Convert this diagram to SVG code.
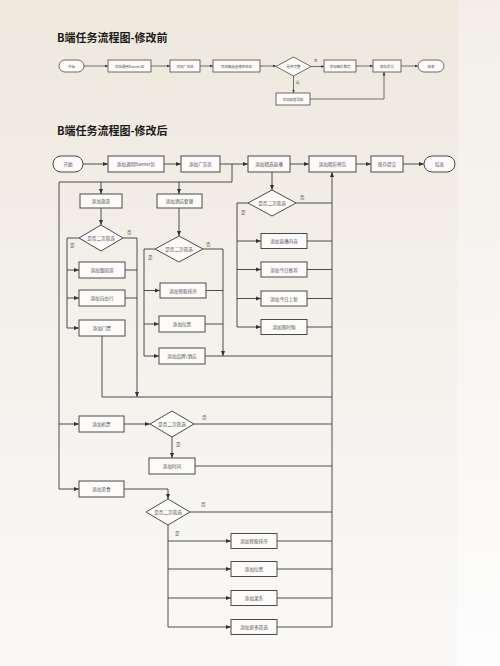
<svg xmlns="http://www.w3.org/2000/svg" width="500" height="666" viewBox="0 0 500 666">
<defs>
<linearGradient id="bg" x1="0" y1="0" x2="0" y2="1">
<stop offset="0" stop-color="#eee8dd"/>
<stop offset="0.5" stop-color="#f4f1ec"/>
<stop offset="1" stop-color="#faf9f8"/>
</linearGradient>
<linearGradient id="bg2" x1="0" y1="0" x2="0" y2="1">
<stop offset="0" stop-color="#f3efe8"/>
<stop offset="0.5" stop-color="#f8f6f3"/>
<stop offset="1" stop-color="#fdfdfd"/>
</linearGradient>
<marker id="a" viewBox="0 0 10 10" refX="10" refY="5" markerWidth="5" markerHeight="5" orient="auto" markerUnits="userSpaceOnUse"><path d="M0,1 L10,5 L0,9 z" fill="#333"/></marker>
<marker id="s" viewBox="0 0 10 10" refX="10" refY="5" markerWidth="3.5" markerHeight="3.5" orient="auto" markerUnits="userSpaceOnUse"><path d="M0,1 L10,5 L0,9 z" fill="#333"/></marker>
</defs>
<style>
.title{font-family:"Noto Sans CJK SC","Noto Sans",sans-serif;font-weight:bold;font-size:11px;fill:#1a1a1a}
.b{fill:#fcfbf9;stroke:#4a4a4a;stroke-width:1}
.bs{fill:#fcfbf9;stroke:#4a4a4a;stroke-width:0.8}
.t{font-family:"Noto Sans CJK SC","Noto Sans",sans-serif;font-size:4.6px;fill:#555;text-anchor:middle;dominant-baseline:central}
.ts{font-family:"Noto Sans CJK SC","Noto Sans",sans-serif;font-size:3.5px;fill:#555;text-anchor:middle;dominant-baseline:central}
.l{font-family:"Noto Sans CJK SC","Noto Sans",sans-serif;font-size:4.6px;fill:#555}
.ls{font-family:"Noto Sans CJK SC","Noto Sans",sans-serif;font-size:3.5px;fill:#555}
.c path{fill:none;stroke:#3a3a3a;stroke-width:0.9}
.cs path{fill:none;stroke:#3a3a3a;stroke-width:0.7}
.ar{marker-end:url(#a)}
.as{marker-end:url(#s)}
</style>
<rect x="0" y="0" width="458" height="666" fill="url(#bg)"/>
<rect x="458" y="0" width="42" height="666" fill="url(#bg2)"/>

<text class="title" x="57" y="42">B端任务流程图-修改前</text>
<text class="title" x="57" y="135">B端任务流程图-修改后</text>

<!-- before chart connectors -->
<g id="connectors-before" class="cs">
<path class="as" d="M84,66 H108"/>
<path class="as" d="M151,66 H170"/>
<path class="as" d="M200,66 H213"/>
<path class="as" d="M260,66 H276"/>
<path class="as" d="M311,66.5 H324"/>
<path class="as" d="M356,66 H373"/>
<path class="as" d="M401,66 H418"/>
<path class="as" d="M293.5,76 V93"/>
<path class="as" d="M310,99 H384 V72"/>
</g>
<text class="ls" x="314" y="62">否</text>
<text class="ls" x="296" y="84">是</text>

<g id="p-start"><rect class="bs" x="59" y="60" width="25" height="12" rx="6"/><text class="ts" x="71.5" y="66">开始</text></g>
<g id="p-banner"><rect class="bs" x="108" y="60" width="43" height="12"/><text class="ts" x="129.5" y="66">添加通用Banner区</text></g>
<g id="p-ad"><rect class="bs" x="170" y="60" width="30" height="12"/><text class="ts" x="185" y="66">添加广告区</text></g>
<g id="p-live"><rect class="bs" x="213" y="60" width="47" height="12"/><text class="ts" x="236.5" y="66">添加精选直播预告区</text></g>
<g id="p-dec"><polygon class="bs" points="276,66.5 293.5,57 311,66.5 293.5,76"/><text class="ts" x="293.5" y="66.5">是否完整</text></g>
<g id="p-rec"><rect class="bs" x="324" y="60" width="32" height="12"/><text class="ts" x="340" y="66">添加精彩推荐</text></g>
<g id="p-save"><rect class="bs" x="373" y="60" width="28" height="12"/><text class="ts" x="387" y="66">保存提交</text></g>
<g id="p-end"><rect class="bs" x="418" y="60" width="26" height="12" rx="6"/><text class="ts" x="431" y="66">结束</text></g>
<g id="p-nav"><rect class="bs" x="276" y="93" width="34" height="12"/><text class="ts" x="293" y="99">添加频道导航</text></g>

<!-- after chart connectors -->
<g id="connectors-after" class="c">
<path class="ar" d="M83,164 H108"/>
<path class="ar" d="M164,164 H181"/>
<path class="ar" d="M220,164 H248"/>
<path class="ar" d="M290,164 H309"/>
<path class="ar" d="M356,164 H371"/>
<path class="ar" d="M403,164 H424"/>
<path d="M232,164 V182 H59 V489"/>
<path class="ar" d="M101,182 V194"/>
<path class="ar" d="M179,182 V194"/>
<path class="ar" d="M59,424 H79"/>
<path class="ar" d="M59,489 H79"/>
<!-- left group -->
<path class="ar" d="M101,208 V225"/>
<path class="ar" d="M123,238 H137 V397"/>
<path d="M79,238 H67 V328"/>
<path class="ar" d="M67,270 H79"/>
<path class="ar" d="M67,298 H79"/>
<path class="ar" d="M67,328 H79"/>
<path d="M125,270 H137"/>
<path d="M125,298 H137"/>
<path d="M102,336 V397 H332"/>
<!-- middle group -->
<path class="ar" d="M179,208 V236"/>
<path class="ar" d="M203,249 H223 V356"/>
<path d="M155,249 H144 V356"/>
<path class="ar" d="M144,290.5 H160"/>
<path class="ar" d="M144,324 H159"/>
<path class="ar" d="M144,356 H159"/>
<path d="M206,290.5 H223"/>
<path d="M205,324 H223"/>
<path d="M205,356 H332"/>
<!-- right group -->
<path class="ar" d="M272,172 V190"/>
<path d="M296,203 H332"/>
<path d="M248,203 H237 V327"/>
<path class="ar" d="M237,241 H261"/>
<path class="ar" d="M237,269.5 H261"/>
<path class="ar" d="M237,298.5 H261"/>
<path class="ar" d="M237,327 H261"/>
<path d="M307,241 H332"/>
<path d="M307,269.5 H332"/>
<path d="M307,298.5 H332"/>
<path d="M307,327 H332"/>
<path class="ar" d="M332,627 V172"/>
<!-- flights -->
<path class="ar" d="M124,424 H150"/>
<path d="M194,424 H332"/>
<path class="ar" d="M172,437 V458"/>
<path d="M195,466 H332"/>
<!-- food -->
<path class="ar" d="M124,489 H168 V499"/>
<path d="M190,512 H332"/>
<path d="M168,525 V627"/>
<path class="ar" d="M168,541 H231"/>
<path class="ar" d="M168,569 H231"/>
<path class="ar" d="M168,598 H231"/>
<path class="ar" d="M168,627 H231"/>
<path d="M277,541 H332"/>
<path d="M277,569 H332"/>
<path d="M277,598 H332"/>
<path d="M277,627 H332"/>
</g>
<text class="l" x="127" y="234">否</text>
<text class="l" x="70" y="247">是</text>
<text class="l" x="206" y="246">否</text>
<text class="l" x="148" y="259">是</text>
<text class="l" x="300" y="199">否</text>
<text class="l" x="241" y="214">是</text>
<text class="l" x="202" y="419">否</text>
<text class="l" x="176" y="446">是</text>
<text class="l" x="201" y="506">否</text>
<text class="l" x="175" y="535">是</text>

<g id="n-start"><rect class="b" x="53" y="156" width="30" height="16" rx="8"/><text class="t" x="68" y="164">开始</text></g>
<g id="n-banner"><rect class="b" x="108" y="156" width="56" height="16"/><text class="t" x="136" y="164">添加通用Banner区</text></g>
<g id="n-ad"><rect class="b" x="181" y="156" width="39" height="16"/><text class="t" x="200.5" y="164">添加广告区</text></g>
<g id="n-live"><rect class="b" x="248" y="156" width="42" height="16"/><text class="t" x="269" y="164">添加精选直播</text></g>
<g id="n-preview"><rect class="b" x="309" y="156" width="47" height="16"/><text class="t" x="332.5" y="164">添加精彩预告</text></g>
<g id="n-save"><rect class="b" x="371" y="156" width="32" height="16"/><text class="t" x="387" y="164">保存提交</text></g>
<g id="n-end"><rect class="b" x="424" y="156" width="31" height="16" rx="8"/><text class="t" x="439.5" y="164">结束</text></g>

<g id="n-travel"><rect class="b" x="80" y="194" width="42" height="14"/><text class="t" x="101" y="201">添加旅游</text></g>
<g id="n-d1"><polygon class="b" points="79,238 101,225 123,238 101,251"/><text class="t" x="101" y="238">是否二次筛选</text></g>
<g id="n-group"><rect class="b" x="79" y="262" width="46" height="16"/><text class="t" x="102" y="270">添加跟团游</text></g>
<g id="n-free"><rect class="b" x="79" y="290" width="46" height="16"/><text class="t" x="102" y="298">添加自由行</text></g>
<g id="n-ticket"><rect class="b" x="79" y="320" width="46" height="16"/><text class="t" x="102" y="328">添加门票</text></g>

<g id="n-hotel"><rect class="b" x="157" y="194" width="45" height="14"/><text class="t" x="179.5" y="201">添加酒店套餐</text></g>
<g id="n-d2"><polygon class="b" points="155,249 179,236 203,249 179,262"/><text class="t" x="179" y="249">是否二次筛选</text></g>
<g id="n-sort1"><rect class="b" x="160" y="283" width="46" height="15"/><text class="t" x="183" y="290.5">添加智能排序</text></g>
<g id="n-pos1"><rect class="b" x="159" y="316" width="46" height="16"/><text class="t" x="182" y="324">添加位置</text></g>
<g id="n-brand"><rect class="b" x="159" y="348" width="46" height="16"/><text class="t" x="182" y="356">添加品牌/酒店</text></g>

<g id="n-d3"><polygon class="b" points="248,203 272,190 296,203 272,216"/><text class="t" x="272" y="203">是否二次筛选</text></g>
<g id="n-content"><rect class="b" x="261" y="233.5" width="46" height="15"/><text class="t" x="284" y="241">添加直播内容</text></g>
<g id="n-today"><rect class="b" x="261" y="262" width="46" height="15"/><text class="t" x="284" y="269.5">添加今日推荐</text></g>
<g id="n-new"><rect class="b" x="261" y="291" width="46" height="15"/><text class="t" x="284" y="298.5">添加今日上新</text></g>
<g id="n-limit"><rect class="b" x="261" y="319.5" width="46" height="15"/><text class="t" x="284" y="327">添加限时购</text></g>

<g id="n-flight"><rect class="b" x="79" y="416" width="45" height="16"/><text class="t" x="101.5" y="424">添加机票</text></g>
<g id="n-d4"><polygon class="b" points="150,424 172,411 194,424 172,437"/><text class="t" x="172" y="424">是否二次筛选</text></g>
<g id="n-time"><rect class="b" x="149" y="458" width="46" height="16"/><text class="t" x="172" y="466">添加时间</text></g>

<g id="n-food"><rect class="b" x="79" y="481" width="45" height="16"/><text class="t" x="101.5" y="489">添加美食</text></g>
<g id="n-d5"><polygon class="b" points="146,512 168,499 190,512 168,525"/><text class="t" x="168" y="512">是否二次筛选</text></g>
<g id="n-sort2"><rect class="b" x="231" y="533.5" width="46" height="15"/><text class="t" x="254" y="541">添加智能排序</text></g>
<g id="n-pos2"><rect class="b" x="231" y="561.5" width="46" height="15"/><text class="t" x="254" y="569">添加位置</text></g>
<g id="n-cuisine"><rect class="b" x="231" y="590.5" width="46" height="15"/><text class="t" x="254" y="598">添加菜系</text></g>
<g id="n-more"><rect class="b" x="231" y="619.5" width="46" height="15"/><text class="t" x="254" y="627">添加更多筛选</text></g>
</svg>
